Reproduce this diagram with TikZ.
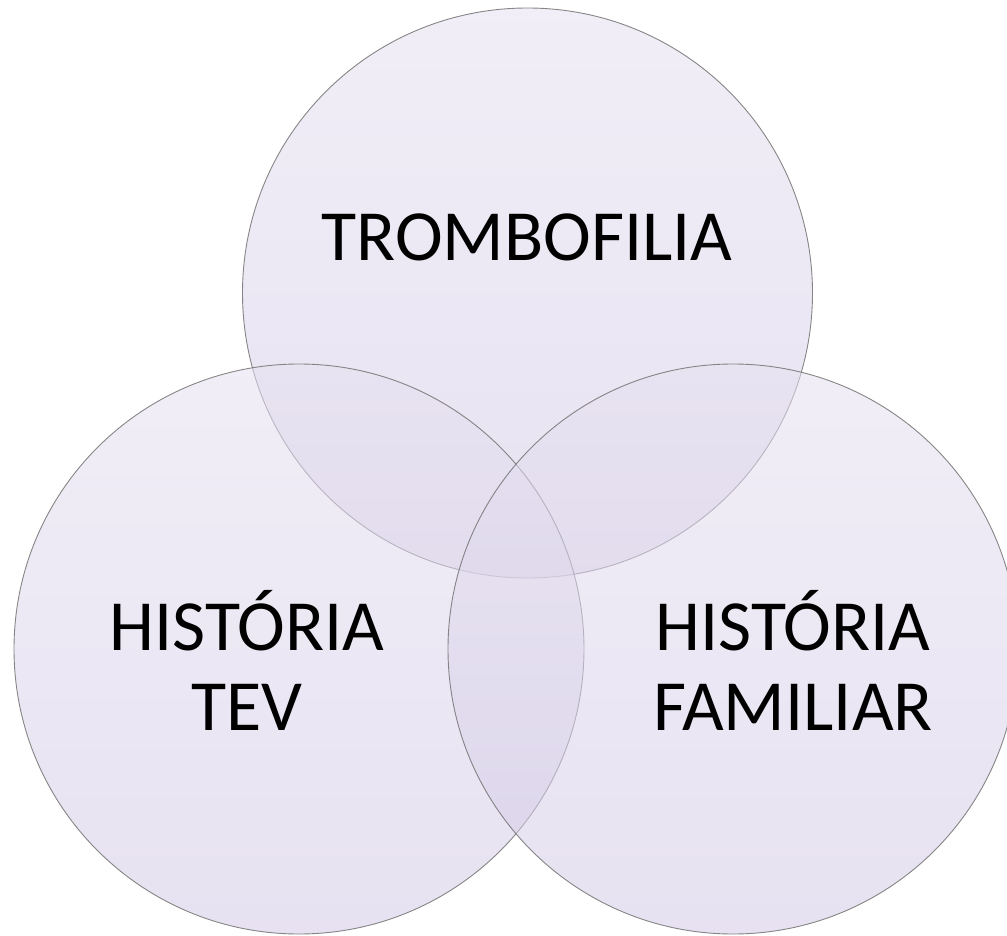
\documentclass[tikz,border=0pt]{standalone}
\usepackage{fontspec}
\setmainfont{Carlito}
\begin{document}
\begin{tikzpicture}[x=1pt,y=-1pt,
  venn/.style={circle, minimum size=570pt, inner sep=0pt, draw=black!55, line width=0.9pt,
    top color=vtop, bottom color=vbot, fill opacity=0.55, draw opacity=0.85},
  lbl/.style={font=\fontsize{72}{80}\selectfont, align=center, text=black}]
\definecolor{vtop}{RGB}{230,225,241}
\definecolor{vbot}{RGB}{212,202,230}
\useasboundingbox (0,0) rectangle (1007,936);
\clip (0,0) rectangle (1007,936);
\fill[white] (0,0) rectangle (1007,936);
\node[venn] (ctop) at (527.5,293) {};
\node[venn] (cleft) at (299,649) {};
\node[venn] (cright) at (733,649) {};
\node[lbl] (ttop) at (527,237) {TROMBOFILIA};
\node[lbl] (tleft) at (247,660) {HISTÓRIA\\TEV};
\node[lbl] (tright) at (793,660) {HISTÓRIA\\FAMILIAR};
\end{tikzpicture}
\end{document}
